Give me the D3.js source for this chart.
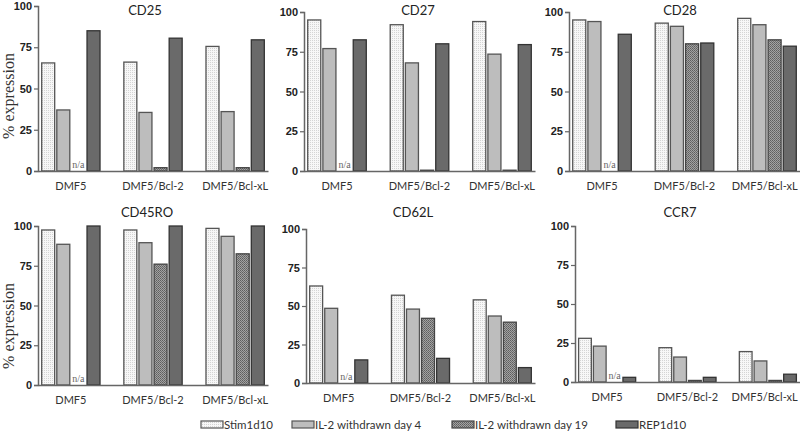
<!DOCTYPE html>
<html>
<head>
<meta charset="utf-8">
<script src="https://cdn.jsdelivr.net/npm/d3@7"></script>
<style>
  html, body { margin: 0; padding: 0; background: #fff; }
  svg { display: block; }
</style>
</head>
<body>
<script>
// ---------------- DATA ----------------
const panelNames = ["CD25", "CD27", "CD28", "CD45RO", "CD62L", "CCR7"];
const groups = ["DMF5", "DMF5/Bcl-2", "DMF5/Bcl-xL"];
const seriesNames = ["Stim1d10", "IL-2 withdrawn day 4", "IL-2 withdrawn day 19", "REP1d10"];
const yTicks = [0, 25, 50, 75, 100];
const yAxisTitle = "% expression";
const naLabel = "n/a";

// values per panel (rows) per group (columns); null = n/a
const stim1d10 = [[65.5, 66, 75.5], [95, 92, 94], [95, 93, 96], [97.5, 97.5, 98.5], [63, 57, 54], [28, 22, 19.5]];
const il2Day4  = [[37, 35.5, 36], [77, 68, 73.5], [94, 91, 92], [88.5, 89.5, 93.5], [48.5, 48, 43.5], [23, 16, 13.5]];
const il2Day19 = [[null, 2, 2], [null, 0.5, 0.5], [null, 80, 82.5], [null, 76, 82.5], [null, 42, 39.5], [null, 1, 1]];
const rep1d10  = [[85, 80.5, 79.5], [82.5, 80, 79.5], [86, 80.5, 78.5], [100, 100, 100], [15, 16, 10], [3, 3, 5]];
const seriesValues = [stim1d10, il2Day4, il2Day19, rep1d10];

// ---------------- LAYOUT ----------------
const W = 800, H = 431;
const layout = [
  { x0: 38,  x1: 268, yTop: 6,   yBot: 171, tx: 145, ty: 15,  yTitle: true,  yTitleY: 96 },
  { x0: 304, x1: 535, yTop: 12,  yBot: 171, tx: 418, ty: 15,  yTitle: false },
  { x0: 569, x1: 800, yTop: 12,  yBot: 171, tx: 680, ty: 15,  yTitle: false },
  { x0: 38,  x1: 268, yTop: 226, yBot: 385, tx: 147, ty: 217, yTitle: true,  yTitleY: 326 },
  { x0: 306, x1: 535, yTop: 229, yBot: 383, tx: 413, ty: 217, yTitle: false },
  { x0: 575, x1: 800, yTop: 226, yBot: 382, tx: 680, ty: 217, yTitle: false }
];

const fills = ["url(#patStim)", "#bdbdbd", "url(#patD19)", "#6a6a6a"];
const strokes = ["#555", "#555", "#444", "#333"];

const svg = d3.select("body").append("svg").attr("width", W).attr("height", H);

// patterns
const defs = svg.append("defs");
const pStim = defs.append("pattern").attr("id", "patStim").attr("patternUnits", "userSpaceOnUse")
  .attr("width", 2).attr("height", 2);
pStim.append("rect").attr("width", 2).attr("height", 2).attr("fill", "#f7f7f7");
pStim.append("rect").attr("width", 1).attr("height", 1).attr("fill", "#d4d4d4");
const pD19 = defs.append("pattern").attr("id", "patD19").attr("patternUnits", "userSpaceOnUse")
  .attr("width", 2).attr("height", 2);
pD19.append("rect").attr("width", 2).attr("height", 2).attr("fill", "#a2a2a2");
pD19.append("rect").attr("width", 1).attr("height", 1).attr("fill", "#5e5e5e");
pD19.append("rect").attr("x", 1).attr("y", 1).attr("width", 1).attr("height", 1).attr("fill", "#6e6e6e");

const labelFont = "Lato, 'Open Sans', sans-serif";

panelNames.forEach((name, pi) => {
  const L = layout[pi];
  const g = svg.append("g");
  const x = d3.scaleBand().domain(groups).range([L.x0, L.x1]).paddingInner(0.29).paddingOuter(0.045);
  const xs = d3.scaleBand().domain(d3.range(seriesNames.length)).range([0, x.bandwidth()]).paddingInner(0.14);
  const y = d3.scaleLinear().domain([0, 100]).range([L.yBot, L.yTop]);

  // bars
  seriesNames.forEach((s, si) => {
    groups.forEach((grp, gi) => {
      const v = seriesValues[si][pi][gi];
      const bx = x(grp) + xs(si);
      if (v === null) {
        g.append("text").attr("x", bx + xs.bandwidth() / 2).attr("y", L.yBot - 3)
          .attr("text-anchor", "middle")
          .attr("font-family", "'Liberation Serif', 'Times New Roman', serif")
          .attr("font-size", 10).attr("fill", "#666").text(naLabel);
        return;
      }
      g.append("rect")
        .attr("x", bx).attr("y", y(v))
        .attr("width", xs.bandwidth()).attr("height", Math.max(0.8, L.yBot - y(v)))
        .attr("fill", fills[si]).attr("stroke", strokes[si]).attr("stroke-width", 1.3);
    });
  });

  // y axis
  const ya = g.append("g").attr("transform", `translate(${L.x0},0)`)
    .call(d3.axisLeft(y).tickValues(yTicks).tickSize(4).tickPadding(2));
  ya.select(".domain").attr("stroke", "#666").attr("stroke-width", 1.5);
  ya.selectAll(".tick line").attr("stroke", "#666").attr("stroke-width", 1.2);
  ya.selectAll(".tick text").attr("font-family", "'Liberation Sans', Arial, sans-serif")
    .attr("font-weight", "bold").attr("font-size", 11).attr("fill", "#222");

  // x axis
  const xa = g.append("g").attr("transform", `translate(0,${L.yBot})`)
    .call(d3.axisBottom(x).tickSize(0).tickPadding(11));
  xa.select(".domain").attr("stroke", "#666").attr("stroke-width", 1.5);
  xa.selectAll(".tick text").attr("font-family", labelFont).attr("font-size", 11).attr("fill", "#333");
  // keep the right-most label inside the picture
  xa.selectAll(".tick text").each(function () {
    const bb = this.getBBox();
    const t = d3.select(this.parentNode).attr("transform");
    const tx = +/translate\(([-\d.]+)/.exec(t)[1];
    const over = tx + bb.x + bb.width - (W - 2);
    if (over > 0) d3.select(this).attr("dx", -over);
  });

  // title
  g.append("text").attr("x", L.tx).attr("y", L.ty).attr("text-anchor", "middle")
    .attr("font-family", labelFont).attr("font-size", 13).attr("fill", "#222").text(name);

  if (L.yTitle) {
    g.append("text").attr("transform", `translate(14,${L.yTitleY}) rotate(-90)`)
      .attr("text-anchor", "middle")
      .attr("font-family", "'Liberation Serif', 'Times New Roman', serif")
      .attr("font-size", 16).attr("fill", "#333").text(yAxisTitle);
  }
});

// legend
const legendX = [201, 292, 452, 616];
const lg = svg.append("g");
seriesNames.forEach((s, si) => {
  lg.append("rect").attr("x", legendX[si]).attr("y", 421).attr("width", 22).attr("height", 7)
    .attr("fill", fills[si]).attr("stroke", strokes[si]).attr("stroke-width", 1.2);
  lg.append("text").attr("x", legendX[si] + 23).attr("y", 428.5)
    .attr("font-family", labelFont).attr("font-size", 11.5).attr("fill", "#333").text(s);
});
</script>
</body>
</html>
